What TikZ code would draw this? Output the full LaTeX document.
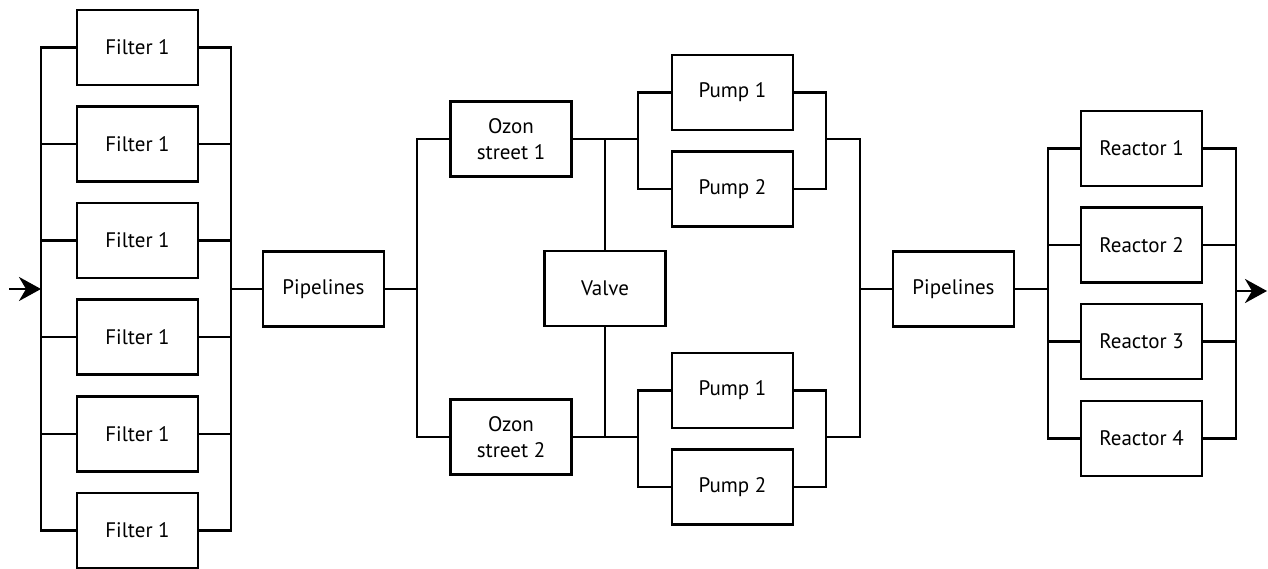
\documentclass[tikz,border=0pt]{standalone}
\usepackage{fontspec}
\setmainfont{PT Sans}
\usetikzlibrary{arrows.meta}
\begin{document}
\begin{tikzpicture}[x=1pt, y=-1pt, line width=2.7pt]
    \tikzstyle{unit}=[draw, rectangle, minimum width=121pt, minimum height=75pt, inner sep=0pt, align=center, font=\fontsize{21}{26}\selectfont]
    \tikzstyle{flow}=[-{Stealth[length=22pt, width=24pt, inset=7pt]}]
    \useasboundingbox (0,0) rectangle (1268,569);
    % filters
    \node[unit] (f1) at (137.5,47.5){Filter 1};
    \node[unit] (f2) at (137.5,144){Filter 1};
    \node[unit] (f3) at (137.5,240.5){Filter 1};
    \node[unit] (f4) at (137.5,337){Filter 1};
    \node[unit] (f5) at (137.5,434){Filter 1};
    \node[unit] (f6) at (137.5,530.5){Filter 1};
    \coordinate (in) at (9,289);
    \coordinate (fbl) at (41,289);
    \coordinate (fbr) at (231,289);
    \draw (f1.west) -| (fbl) |- (f6.west);
    \draw (f1.east) -| (fbr) |- (f6.east);
    \foreach \i in {2,3,4,5}{
      \draw (f\i.west) -- (f\i.west -| fbl);
      \draw (f\i.east) -- (f\i.east -| fbr);
    }
    \draw[flow] (in) -- (fbl);
    % pipelines and ozon streets
    \node[unit] (pipe1) at (323.5,289){Pipelines};
    \draw (fbr) -- (pipe1);
    \node[unit] (oz1) at (511,139){Ozon\\street 1};
    \node[unit] (oz2) at (511,437){Ozon\\street 2};
    \coordinate (obl) at (417,289);
    \draw (oz1.west) -| (obl) |- (oz2.west);
    \draw (pipe1) -- (obl);
    \node[unit] (valve) at (605,288.5){Valve};
    \draw (valve.north) -- (valve.north |- oz1.east);
    \draw (valve.south) -- (valve.south |- oz2.east);
    % pumps
    \node[unit] (p11) at (732.5,92.5){Pump 1};
    \node[unit] (p12) at (732.5,189){Pump 2};
    \node[unit] (p21) at (732.5,390.5){Pump 1};
    \node[unit] (p22) at (732.5,487){Pump 2};
    \coordinate (pl1) at (638,139);
    \coordinate (pl2) at (638,437);
    \coordinate (pr1) at (826,139);
    \coordinate (pr2) at (826,437);
    \draw (oz1.east) -- (pl1);
    \draw (oz2.east) -- (pl2);
    \draw (p11.west) -| (pl1) |- (p12.west);
    \draw (p21.west) -| (pl2) |- (p22.west);
    \draw (p11.east) -| (pr1) |- (p12.east);
    \draw (p21.east) -| (pr2) |- (p22.east);
    \coordinate (ob) at (860,289);
    \draw (pr1) -| (ob) |- (pr2);
    % reactors
    \node[unit] (pipe2) at (953.5,289){Pipelines};
    \draw (ob) -- (pipe2);
    \node[unit] (r1) at (1141.5,148.5){Reactor 1};
    \node[unit] (r2) at (1141.5,245){Reactor 2};
    \node[unit] (r3) at (1141.5,341.5){Reactor 3};
    \node[unit] (r4) at (1141.5,438.5){Reactor 4};
    \coordinate (rbl) at (1048,289);
    \coordinate (rbr) at (1236,291);
    \coordinate (out) at (1267,291);
    \draw (r1.west) -| (rbl) |- (r4.west);
    \draw (r1.east) -| (rbr) |- (r4.east);
    \foreach \i in {2,3}{
      \draw (r\i.west) -- (r\i.west -| rbl);
      \draw (r\i.east) -- (r\i.east -| rbr);
    }
    \draw (pipe2) -- (rbl);
    \draw[flow] (rbr) -- (out);
    %\draw (valve) -- (ob);
  \end{tikzpicture}
\end{document}
